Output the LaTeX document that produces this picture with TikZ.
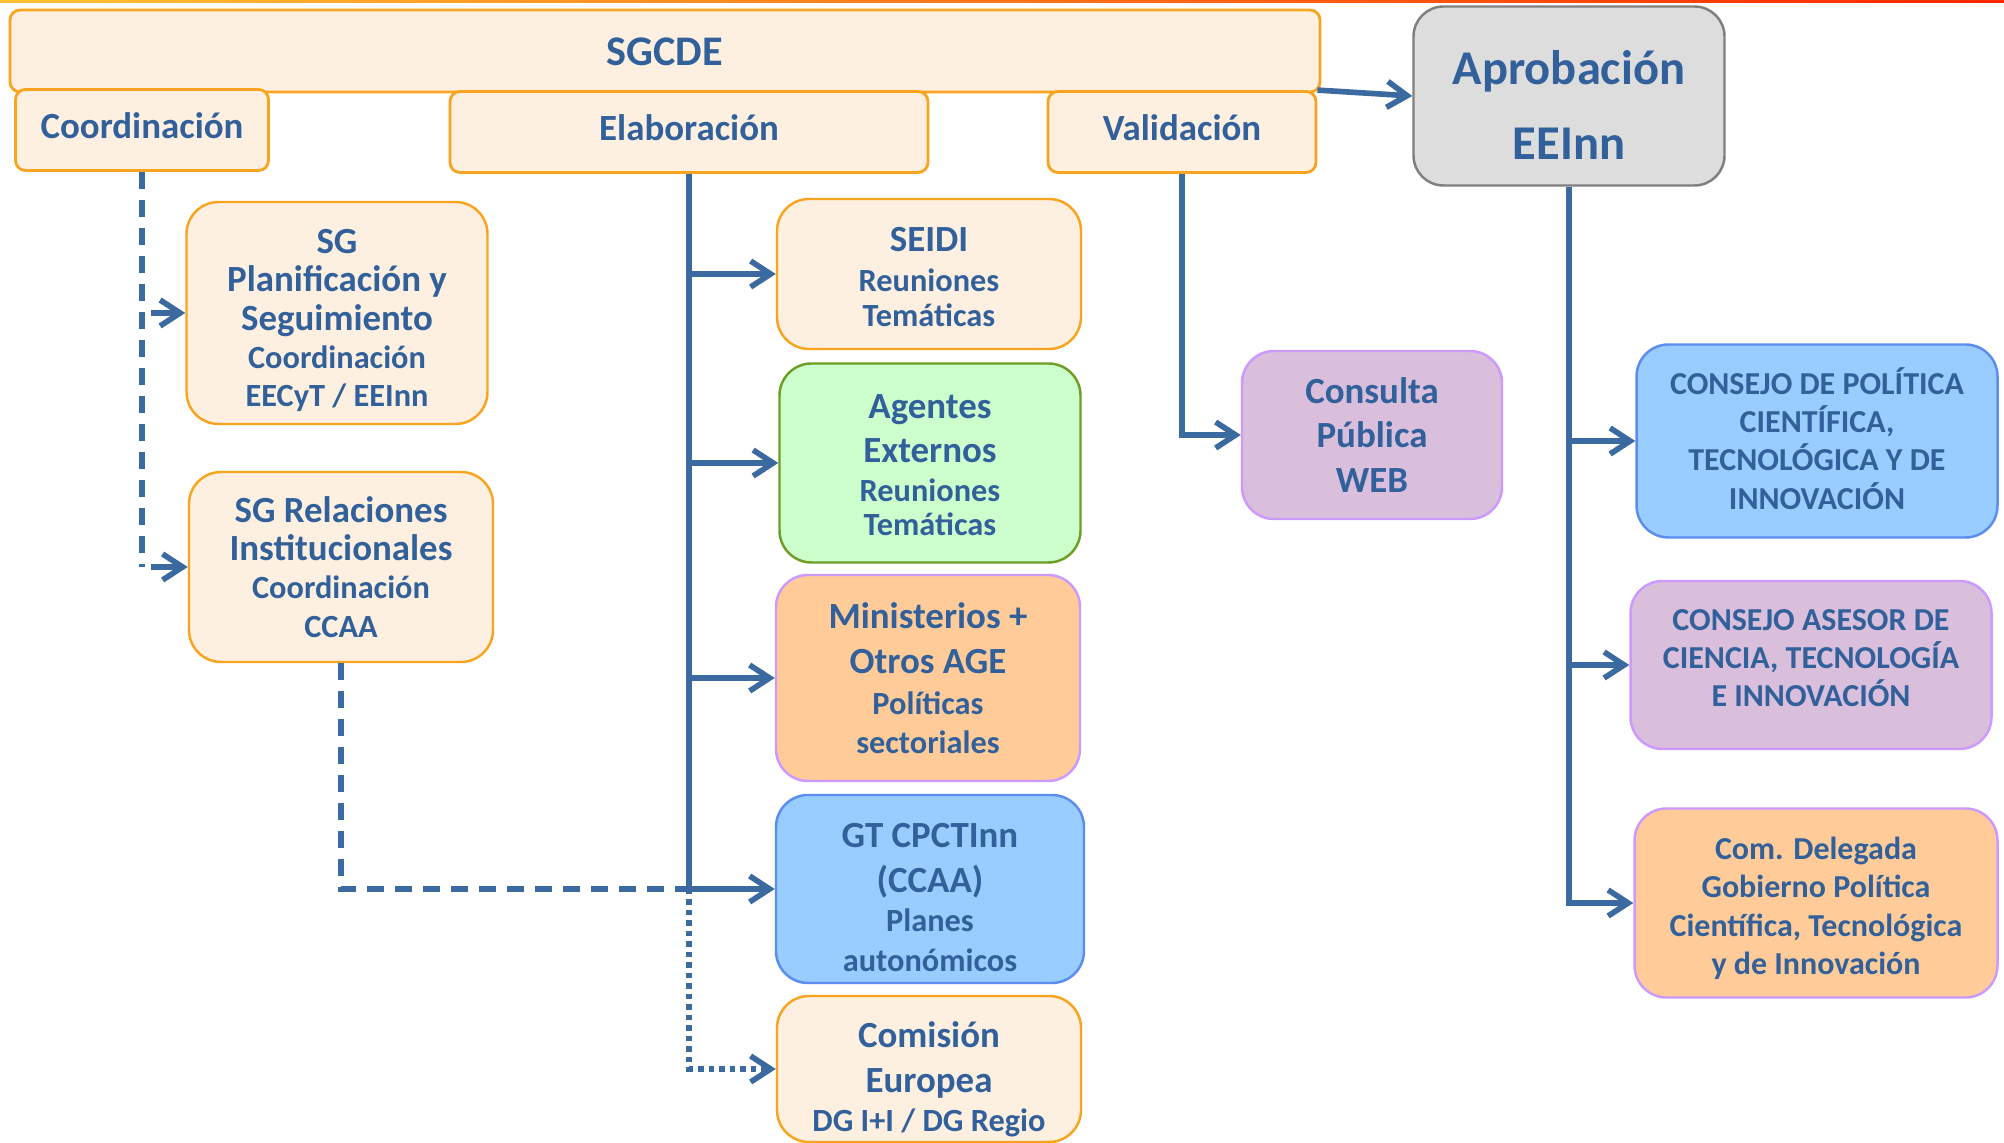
\documentclass[tikz,border=0pt]{standalone}
\usepackage{fontspec}
\setmainfont{Carlito}
\usepackage{xcolor}
\usetikzlibrary{positioning}
\usetikzlibrary{arrows.meta}
\definecolor{txtblue}{HTML}{31609A}
\definecolor{lineblue}{HTML}{3A6A9F}
\definecolor{orfill}{HTML}{FEF0E1}
\definecolor{ordraw}{HTML}{F9A41E}
\definecolor{grfill}{HTML}{DDDDDD}
\definecolor{grdraw}{HTML}{7F7F7F}
\definecolor{gnfill}{HTML}{CCFFCC}
\definecolor{gndraw}{HTML}{6E9E23}
\definecolor{pcfill}{HTML}{FFCC99}
\definecolor{lvdraw}{HTML}{CC99FF}
\definecolor{blfill}{HTML}{99CCFF}
\definecolor{bldraw}{HTML}{5B8DEF}
\definecolor{mvfill}{HTML}{D9BFDC}
\def\sm#1{{\fontsize{9.2}{10.6}\selectfont #1}}
\def\up#1{\rule{0pt}{#1}}
\def\dn#1{\rule[-#1]{0pt}{#1}}
\tikzstyle{hbox} = [draw=ordraw, fill=orfill, line width=0.8pt, rounded corners=1mm, text=txtblue, inner sep=0pt, text height=8pt, text depth=3.4pt, font=\bfseries\fontsize{10.5}{12.7}\selectfont]
\tikzstyle{cbox} = [line width=0.7pt, rounded corners=3.2mm, text=txtblue, inner sep=0pt, align=center, font=\bfseries\fontsize{10.5}{12.7}\selectfont]
\tikzstyle{capbox} = [cbox, font=\bfseries\fontsize{9.1}{10.9}\selectfont]
\tikzstyle{arrow} = [draw=lineblue, line width=1.6pt, -{Straight Barb[length=2mm,width=2.6mm]}]
\tikzstyle{trunk} = [draw=lineblue, line width=1.6pt]
\tikzstyle{dashline} = [trunk, dash pattern=on 1.7mm off 1.1mm]
\tikzstyle{dotline} = [arrow, line width=1.6pt, dash pattern=on 0.55mm off 0.5mm]

\begin{document}
\begin{tikzpicture}[x=0.1mm, y=-0.1mm]
\useasboundingbox (0,0) rectangle (2004,1143);
\shade[left color=orange!60!yellow!80, right color=red!70!orange] (0,0) rectangle (2004,3);
% cabecera
\node[hbox, minimum width=131mm, minimum height=8.2mm, text height=8pt, text depth=0pt, font=\bfseries\fontsize{12}{14}\selectfont] (sgcde) at (665,51) {SGCDE};
\node[hbox, minimum width=25.3mm, minimum height=8.1mm] (coord) at (142,130) {Coordinación};
\node[hbox, minimum width=47.8mm, minimum height=8.1mm] (elab) at (689,132) {Elaboración};
\node[hbox, minimum width=26.8mm, minimum height=8.1mm] (valid) at (1182,132) {Validación};
\node[cbox, draw=grdraw, fill=grfill, minimum width=31.1mm, minimum height=17.9mm, rounded corners=3mm, font=\bfseries\fontsize{13.8}{21.3}\selectfont] (aprob) at (1569,96) {\up{15pt}Aprobación\\EEInn};
% coordinacion
\node[cbox, draw=ordraw, fill=orfill, minimum width=30.1mm, minimum height=22.2mm] (sgplan) at (337,313) {\up{11.2pt}SG\\[-1.8pt]Planificación y\\[-1.8pt]Seguimiento\\[-1.8pt]\sm{Coordinación}\\[-1.8pt]\sm{EECyT / EEInn}};
\node[cbox, draw=ordraw, fill=orfill, minimum width=30.4mm, minimum height=19mm] (sgrel) at (341,567) {SG Relaciones\\[-1.8pt]Institucionales\\[-1.8pt]\sm{Coordinación}\\[-1.8pt]\sm{CCAA}};
% elaboracion
\node[cbox, draw=ordraw, fill=orfill, minimum width=30.4mm, minimum height=15mm] (seidi) at (929,274) {\up{8.5pt}SEIDI\\[-1.4pt]\sm{Reuniones}\\[-2.8pt]\sm{Temáticas}};
\node[cbox, draw=gndraw, fill=gnfill, minimum width=30.1mm, minimum height=19.9mm] (agentes) at (930,463) {\up{8pt}Agentes\\Externos\\[-1.8pt]\sm{Reuniones}\\[-2.8pt]\sm{Temáticas}};
\node[cbox, draw=lvdraw, fill=pcfill, minimum width=30.4mm, minimum height=20.6mm] (minis) at (928,678) {Ministerios +\\Otros AGE\\[-0.8pt]\sm{Políticas}\\[-1.8pt]\sm{sectoriales}};
\node[cbox, draw=bldraw, fill=blfill, minimum width=30.8mm, minimum height=18.8mm] (gt) at (930,889) {\up{11.8pt}GT CPCTInn\\(CCAA)\\[-1.4pt]\sm{Planes}\\[-1.4pt]\sm{autonómicos}};
\node[cbox, draw=ordraw, fill=orfill, minimum width=30.4mm, minimum height=14.6mm] (comision) at (929,1069) {\up{13.4pt}Comisión\\Europea\\[-1.4pt]\sm{DG I+I / DG Regio}};
% validacion
\node[cbox, draw=lvdraw, fill=mvfill, minimum width=26mm, minimum height=16.8mm] (consulta) at (1372,435) {Consulta\\Pública\\WEB};
% aprobacion
\node[capbox, draw=bldraw, fill=blfill, minimum width=36.1mm, minimum height=19.3mm] (consejo) at (1817,441) {CONSEJO DE POLÍTICA\\CIENTÍFICA,\\TECNOLÓGICA Y DE\\INNOVACIÓN\dn{1.5pt}};
\node[capbox, draw=lvdraw, fill=mvfill, minimum width=36.1mm, minimum height=16.8mm] (asesor) at (1811,665) {CONSEJO ASESOR DE\\CIENCIA, TECNOLOGÍA\\E INNOVACIÓN\dn{4pt}};
\node[capbox, draw=lvdraw, fill=pcfill, minimum width=36.3mm, minimum height=18.9mm] (delegada) at (1816,903) {\up{9.4pt}Com. Delegada\\Gobierno Política\\Científica, Tecnológica\\y de Innovación};
% conectores
\draw[dashline] (coord.south) -- (coord.south |- sgrel.west);
\draw[arrow] ([xshift=0.9mm]coord.south |- sgplan.west) -- (sgplan.west);
\draw[arrow] ([xshift=0.9mm]coord.south |- sgrel.west) -- (sgrel.west);
\coordinate (jgt) at (elab.south |- gt.west);
\draw[dashline] (sgrel.south) |- (jgt);
\draw[arrow] (elab.south) |- (seidi.west);
\draw[arrow] (elab.south) |- (agentes.west);
\draw[arrow] (elab.south) |- (minis.west);
\draw[arrow] (elab.south) |- (gt.west);
\draw[dotline] (jgt) |- (comision.west);
\draw[arrow] (valid.south) |- (consulta.west);
\draw[arrow] (valid.north east) -- (aprob.west);
\draw[arrow] (aprob.south) |- (consejo.west);
\draw[arrow] (aprob.south) |- (asesor.west);
\draw[arrow] (aprob.south) |- (delegada.west);
\end{tikzpicture}
\end{document}
